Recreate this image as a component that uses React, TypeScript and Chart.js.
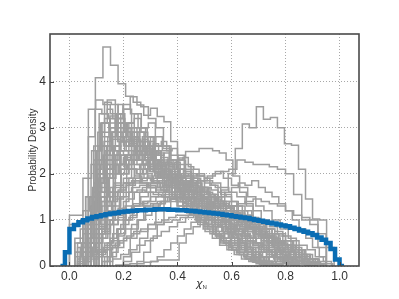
import React, { useEffect, useRef } from 'react';
import { Chart, registerables } from 'chart.js';

Chart.register(...registerables);

const xTicks = [0, 0.2, 0.4, 0.6, 0.8, 1.0];
const yTicks = [0, 1, 2, 3, 4];
const xTitle = 'χ';
const xTitleSub = 'N';
const yTitle = 'Probability Density';

const blueStart = -1 / 30;
const blueWidth = 1 / 60;
const blueValues = [
  0, 0.3, 0.8, 0.89, 0.95, 0.99, 1.03, 1.06, 1.08, 1.1, 1.12, 1.14, 1.15, 1.17, 1.18, 1.19,
  1.2, 1.21, 1.21, 1.22, 1.22, 1.23, 1.23, 1.23, 1.22, 1.22, 1.21, 1.21, 1.2, 1.19, 1.18, 1.17,
  1.16, 1.15, 1.14, 1.13, 1.11, 1.1, 1.08, 1.07, 1.05, 1.04, 1.02, 1.0, 0.98, 0.96, 0.94, 0.92,
  0.9, 0.88, 0.86, 0.83, 0.8, 0.77, 0.74, 0.71, 0.67, 0.62, 0.57, 0.5, 0.37, 0.14, 0,
];

const grayStarts = [
  0.04, 0.172, 0.055, 0.02, 0.06, 0.07, 0.08, 0.1, 0.05, 0.03, 0.0, 0.09, 0.06, 0.12, 0.1, 0.04,
  0.08, 0.05, 0.07, 0.02, 0.1, 0.13, 0.04, 0.06, 0.08, 0.03, 0.05, 0.11, 0.02, 0.05, 0.06, 0.03,
  0.15, 0.09, 0.0, 0.2, 0.12, 0.07, 0.11, 0.03, 0.1,
  0.06, 0.09, 0.12, 0.05, 0.1, 0.16, 0.03, 0.08, 0.14, 0.07, 0.2, 0.11, 0.04, 0.13, 0.02, 0.09,
  0.25, 0.06, 0.15,
  0.04, 0.08, 0.1, 0.06, 0.3, 0.02,
];
const grayWidths = [
  0.028, 0.026, 0.025, 0.03, 0.03, 0.027, 0.025, 0.025, 0.03, 0.03, 0.025, 0.028, 0.024, 0.028, 0.03, 0.03,
  0.026, 0.032, 0.025, 0.03, 0.03, 0.03, 0.028, 0.025, 0.03, 0.026, 0.03, 0.027, 0.024, 0.03, 0.028, 0.03,
  0.028, 0.025, 0.03, 0.03, 0.027, 0.03, 0.026, 0.028, 0.03,
  0.02, 0.02, 0.022, 0.022, 0.02, 0.02, 0.02, 0.024, 0.024, 0.02, 0.025, 0.02, 0.025, 0.026, 0.02, 0.022,
  0.025, 0.03, 0.02,
  0.03, 0.028, 0.025, 0.026, 0.025, 0.03,
];
const grayValues = [
  [0.3, 1.0, 4.08, 4.75, 4.35, 3.95, 3.68, 3.55, 3.45, 3.2, 3.0, 2.6, 2.2, 1.9, 1.6, 1.3, 1.05, 0.85, 0.65, 0.5, 0.35, 0.25, 0.15, 0.1, 0.05, 0.02],
  [0.02, 0.03, 0.05, 0.05, 0.08, 0.1, 0.13, 0.13, 0.13, 0.5, 0.7, 0.85, 1.05, 1.25, 1.5, 1.65, 2.0, 2.55, 3.08, 3.0, 3.45, 3.18, 3.22, 3.0, 2.65, 2.62, 2.1, 1.45, 1.02, 1.0],
  [0.15, 0.25, 0.35, 0.45, 0.55, 0.65, 0.8, 0.9, 1.0, 1.1, 1.2, 1.35, 1.65, 2.0, 2.34, 2.48, 2.48, 2.55, 2.55, 2.5, 2.45, 2.3, 1.95, 1.6, 1.3, 1.0, 0.8, 0.6, 0.4, 0.25, 0.1],
  [0.3, 0.5, 0.7, 0.85, 1.0, 1.1, 1.2, 1.3, 1.35, 1.4, 1.5, 1.55, 1.6, 1.7, 1.75, 1.85, 1.9, 2.0, 2.05, 2.1, 2.3, 2.25, 2.2, 2.2, 2.15, 2.1, 2.0, 1.55, 1.05, 1.0, 0.4],
  [0.4, 0.6, 0.8, 0.9, 1.0, 1.15, 1.3, 1.4, 1.5, 1.6, 1.7, 1.75, 1.8, 1.9, 1.85, 1.95, 2.05, 1.9, 1.75, 1.7, 1.5, 1.3, 1.2, 1.0, 0.8, 0.6, 0.35, 0.15, 0.05],
  [3.4, 3.6, 3.5, 3.3, 3.2, 2.9, 2.7, 2.5, 2.4, 2.1, 1.9, 1.7, 1.5, 1.3, 1.1, 0.9, 0.75, 0.6, 0.45, 0.35, 0.25, 0.15, 0.1, 0.05],
  [1.5, 2.9, 3.55, 3.5, 3.3, 3.0, 2.8, 2.7, 2.55, 2.3, 2.2, 2.0, 1.8, 1.6, 1.4, 1.25, 1.05, 0.9, 0.75, 0.6, 0.45, 0.35, 0.25, 0.15, 0.08, 0.04],
  [1.8, 2.4, 2.9, 3.2, 3.4, 3.67, 3.49, 3.27, 3.42, 3.24, 3.13, 2.7, 2.4, 2.2, 1.9, 1.7, 1.5, 1.3, 1.1, 0.9, 0.7, 0.5, 0.35, 0.2, 0.1],
  [0.8, 2.2, 3.3, 3.6, 3.3, 3.4, 3.0, 2.7, 2.5, 2.3, 2.0, 1.7, 1.5, 1.3, 1.1, 0.9, 0.7, 0.5, 0.35, 0.25, 0.15, 0.08],
  [0.5, 1.5, 2.6, 3.1, 3.25, 3.1, 2.9, 2.6, 2.4, 2.2, 1.9, 1.7, 1.5, 1.3, 1.1, 0.95, 0.8, 0.65, 0.5, 0.4, 0.3, 0.2, 0.1, 0.05],
  [1.1, 1.1, 1.2, 1.5, 2.0, 2.4, 2.8, 3.0, 2.9, 2.7, 2.6, 2.5, 2.3, 2.1, 2.0, 1.8, 1.65, 1.5, 1.35, 1.2, 1.05, 0.9, 0.75, 0.6, 0.5, 0.4, 0.3, 0.2, 0.12, 0.06],
  [2.2, 2.8, 3.1, 3.3, 3.0, 2.9, 2.6, 2.5, 2.3, 2.1, 2.0, 1.8, 1.6, 1.45, 1.3, 1.1, 0.9, 0.75, 0.6, 0.45, 0.3, 0.2, 0.1, 0.05],
  [0.6, 1.2, 1.9, 2.5, 2.9, 3.1, 3.0, 2.8, 2.9, 2.7, 2.5, 2.4, 2.2, 2.0, 1.9, 1.7, 1.5, 1.4, 1.2, 1.0, 0.9, 0.75, 0.6, 0.45, 0.35, 0.25, 0.15, 0.08],
  [1.4, 2.0, 2.5, 2.8, 2.9, 3.0, 2.8, 2.6, 2.5, 2.3, 2.1, 1.9, 1.7, 1.5, 1.3, 1.1, 0.9, 0.7, 0.55, 0.4, 0.3, 0.2, 0.1],
  [2.0, 2.6, 2.75, 2.7, 2.6, 2.4, 2.3, 2.2, 2.0, 1.9, 1.75, 1.6, 1.45, 1.3, 1.15, 1.0, 0.85, 0.7, 0.55, 0.4, 0.3, 0.2, 0.1, 0.05, 0.02],
  [0.2, 0.4, 0.8, 1.2, 1.6, 2.0, 2.3, 2.5, 2.55, 2.45, 2.3, 2.2, 2.1, 1.95, 1.8, 1.7, 1.55, 1.4, 1.25, 1.1, 0.95, 0.8, 0.65, 0.5, 0.35, 0.2, 0.1, 0.05],
  [1.0, 1.6, 2.1, 2.4, 2.7, 2.6, 2.75, 2.5, 2.45, 2.3, 2.2, 2.05, 1.9, 1.8, 1.7, 1.55, 1.4, 1.25, 1.1, 0.95, 0.8, 0.7, 0.55, 0.45, 0.35, 0.25, 0.15, 0.1, 0.05],
  [1.9, 2.5, 3.1, 3.0, 2.7, 2.5, 2.3, 2.0, 1.8, 1.65, 1.5, 1.3, 1.15, 1.0, 0.85, 0.7, 0.55, 0.45, 0.35, 0.25, 0.15, 0.1, 0.05],
  [2.8, 3.4, 3.3, 3.2, 2.9, 2.7, 2.6, 2.4, 2.2, 2.05, 1.9, 1.7, 1.55, 1.4, 1.25, 1.1, 0.95, 0.8, 0.7, 0.6, 0.5, 0.4, 0.3, 0.2, 0.12, 0.06],
  [0.3, 0.7, 1.1, 1.5, 1.9, 2.2, 2.3, 2.4, 2.3, 2.2, 2.1, 2.0, 1.9, 1.75, 1.6, 1.5, 1.35, 1.2, 1.05, 0.9, 0.75, 0.6, 0.45, 0.3, 0.2, 0.1, 0.05],
  [0.7, 1.2, 1.7, 2.1, 2.3, 2.2, 2.1, 2.05, 1.95, 1.85, 1.7, 1.6, 1.45, 1.3, 1.2, 1.05, 0.9, 0.8, 0.65, 0.5, 0.4, 0.3, 0.2, 0.1, 0.05],
  [0.1, 0.15, 0.25, 0.35, 0.45, 0.55, 0.65, 0.75, 0.85, 0.95, 1.05, 1.1, 1.15, 1.2, 1.15, 1.1, 1.0, 0.95, 0.85, 0.75, 0.65, 0.55, 0.45, 0.3, 0.15, 0.05],
  [0.1, 0.3, 0.5, 0.7, 0.9, 1.05, 1.2, 1.35, 1.5, 1.6, 1.7, 1.75, 1.8, 1.8, 1.75, 1.7, 1.6, 1.5, 1.4, 1.3, 1.15, 1.0, 0.85, 0.7, 0.55, 0.4, 0.25, 0.15, 0.08],
  [0.2, 0.4, 0.6, 0.9, 1.2, 1.5, 1.75, 1.9, 2.0, 2.1, 2.05, 1.95, 1.9, 1.8, 1.75, 1.65, 1.55, 1.45, 1.35, 1.25, 1.15, 1.05, 0.95, 0.85, 0.75, 0.65, 0.55, 0.45, 0.35, 0.25, 0.15, 0.1, 0.05],
  [0.5, 0.9, 1.3, 1.6, 1.9, 2.1, 2.2, 2.1, 2.0, 1.85, 1.7, 1.6, 1.5, 1.4, 1.3, 1.2, 1.1, 1.0, 0.9, 0.8, 0.7, 0.6, 0.5, 0.4, 0.3, 0.2, 0.1],
  [0.05, 0.1, 0.15, 0.25, 0.35, 0.45, 0.55, 0.65, 0.75, 0.8, 0.9, 0.95, 1.0, 1.05, 1.1, 1.1, 1.15, 1.1, 1.1, 1.05, 1.0, 0.95, 0.9, 0.85, 0.8, 0.75, 0.7, 0.65, 0.55, 0.45, 0.35, 0.25, 0.15, 0.1, 0.05],
  [0.3, 0.6, 0.9, 1.2, 1.45, 1.6, 1.7, 1.75, 1.7, 1.65, 1.6, 1.5, 1.45, 1.4, 1.35, 1.3, 1.2, 1.1, 1.05, 1.0, 0.9, 0.8, 0.7, 0.6, 0.5, 0.4, 0.3, 0.2, 0.1, 0.05],
  [1.6, 2.3, 2.6, 2.5, 2.4, 2.45, 2.2, 2.05, 1.9, 1.75, 1.6, 1.45, 1.3, 1.15, 1.0, 0.85, 0.7, 0.6, 0.5, 0.4, 0.3, 0.2, 0.1],
  [0.2, 0.5, 0.9, 1.4, 1.8, 2.2, 2.5, 2.7, 2.75, 2.6, 2.5, 2.4, 2.3, 2.15, 2.0, 1.9, 1.8, 1.65, 1.5, 1.4, 1.3, 1.2, 1.1, 1.0, 0.9, 0.8, 0.7, 0.6, 0.5, 0.4, 0.3, 0.2, 0.12, 0.06],
  [0.1, 0.2, 0.3, 0.4, 0.5, 0.6, 0.7, 0.75, 0.8, 0.9, 0.95, 1.0, 1.05, 1.1, 1.15, 1.2, 1.25, 1.3, 1.3, 1.35, 1.4, 1.45, 1.4, 1.35, 1.3, 1.2, 1.1, 1.0, 0.9, 0.7, 0.4],
  [0.5, 1.0, 1.5, 1.9, 2.2, 2.35, 2.4, 2.3, 2.2, 2.1, 2.0, 1.9, 1.8, 1.7, 1.65, 1.6, 1.55, 1.5, 1.4, 1.3, 1.2, 1.05, 0.9, 0.75, 0.6, 0.45, 0.3, 0.15, 0.05],
  [0.15, 0.3, 0.5, 0.75, 1.0, 1.25, 1.45, 1.6, 1.7, 1.8, 1.85, 1.9, 1.85, 1.8, 1.75, 1.65, 1.55, 1.4, 1.3, 1.15, 1.0, 0.85, 0.7, 0.55, 0.4, 0.3, 0.2, 0.1, 0.05],
  [0.4, 0.8, 1.3, 1.8, 2.2, 2.5, 2.6, 2.55, 2.4, 2.3, 2.1, 1.9, 1.7, 1.5, 1.35, 1.2, 1.05, 0.9, 0.75, 0.6, 0.45, 0.3, 0.2, 0.1],
  [0.9, 1.5, 2.1, 2.6, 2.9, 3.1, 3.2, 2.9, 2.7, 2.5, 2.35, 2.2, 2.0, 1.85, 1.7, 1.55, 1.4, 1.25, 1.1, 0.95, 0.8, 0.65, 0.5, 0.4, 0.3, 0.2, 0.1, 0.05],
  [0.9, 0.95, 1.0, 1.1, 1.3, 1.5, 1.65, 1.8, 1.85, 1.9, 1.85, 1.8, 1.7, 1.6, 1.5, 1.4, 1.3, 1.2, 1.1, 1.0, 0.9, 0.8, 0.65, 0.5, 0.35, 0.2, 0.1],
  [0.1, 0.3, 0.6, 0.9, 1.2, 1.5, 1.8, 1.95, 2.0, 1.95, 1.85, 1.8, 1.7, 1.6, 1.5, 1.35, 1.2, 1.0, 0.85, 0.7, 0.55, 0.4, 0.25, 0.15, 0.05],
  [0.1, 0.2, 0.4, 0.6, 0.8, 1.0, 1.2, 1.3, 1.4, 1.5, 1.55, 1.6, 1.6, 1.55, 1.5, 1.45, 1.35, 1.25, 1.15, 1.05, 0.95, 0.85, 0.75, 0.65, 0.55, 0.45, 0.35, 0.25, 0.15, 0.08],
  [1.2, 1.8, 2.3, 2.6, 2.7, 2.65, 2.5, 2.35, 2.2, 2.05, 1.9, 1.75, 1.6, 1.45, 1.3, 1.15, 1.0, 0.85, 0.7, 0.55, 0.4, 0.3, 0.2, 0.1],
  [0.8, 1.6, 2.3, 2.8, 3.1, 3.3, 3.0, 3.1, 2.8, 2.6, 2.3, 2.1, 1.9, 1.7, 1.5, 1.3, 1.1, 0.9, 0.75, 0.6, 0.45, 0.3, 0.2, 0.1],
  [0.4, 0.9, 1.6, 2.2, 2.8, 3.2, 3.5, 3.3, 3.0, 2.8, 2.5, 2.25, 2.0, 1.75, 1.5, 1.3, 1.1, 0.9, 0.7, 0.55, 0.4, 0.3, 0.2, 0.1, 0.05],
  [0.3, 0.5, 0.7, 0.9, 1.05, 1.2, 1.3, 1.35, 1.4, 1.45, 1.5, 1.5, 1.45, 1.45, 1.4, 1.35, 1.3, 1.2, 1.1, 1.0, 0.9, 0.8, 0.7, 0.55, 0.4, 0.25, 0.15, 0.05],
  [0.5, 1.3, 2.1, 2.6, 2.4, 2.9, 2.7, 3.0, 2.6, 2.8, 2.5, 2.3, 2.45, 2.1, 2.0, 1.9, 2.05, 1.7, 1.6, 1.55, 1.4, 1.3, 1.35, 1.1, 1.0, 0.95, 0.8, 0.85, 0.7, 0.6, 0.55, 0.45, 0.4, 0.3, 0.25, 0.2, 0.15, 0.1, 0.05],
  [1.8, 2.6, 3.2, 2.9, 3.3, 2.8, 2.9, 2.6, 2.7, 2.4, 2.2, 2.3, 2.0, 1.9, 1.95, 1.7, 1.6, 1.5, 1.35, 1.3, 1.15, 1.05, 0.95, 0.85, 0.8, 0.65, 0.6, 0.5, 0.4, 0.35, 0.25, 0.2, 0.1, 0.05],
  [0.6, 1.4, 2.0, 2.4, 2.2, 2.6, 2.5, 2.7, 2.4, 2.5, 2.2, 2.3, 2.1, 1.95, 2.0, 1.8, 1.7, 1.6, 1.5, 1.45, 1.3, 1.2, 1.1, 1.0, 0.9, 0.8, 0.7, 0.6, 0.5, 0.4, 0.3, 0.2, 0.1],
  [0.2, 0.6, 1.0, 1.5, 1.9, 2.2, 2.0, 2.4, 2.3, 2.5, 2.2, 2.35, 2.1, 2.2, 1.95, 1.9, 1.8, 1.85, 1.65, 1.6, 1.5, 1.4, 1.35, 1.25, 1.2, 1.1, 1.0, 0.95, 0.85, 0.8, 0.7, 0.6, 0.5, 0.4, 0.3, 0.2, 0.12, 0.06],
  [2.5, 3.1, 3.4, 3.2, 3.5, 3.0, 3.1, 2.8, 2.9, 2.6, 2.5, 2.3, 2.2, 2.1, 1.9, 1.8, 1.7, 1.55, 1.45, 1.3, 1.2, 1.1, 1.0, 0.9, 0.8, 0.7, 0.6, 0.5, 0.4, 0.3, 0.2, 0.1, 0.05],
  [0.3, 0.8, 1.4, 1.9, 2.3, 2.6, 2.4, 2.8, 2.6, 2.7, 2.5, 2.55, 2.3, 2.35, 2.15, 2.1, 1.95, 1.9, 1.75, 1.7, 1.55, 1.5, 1.4, 1.3, 1.2, 1.1, 1.0, 0.9, 0.8, 0.7, 0.6, 0.5, 0.4, 0.3, 0.2, 0.1],
  [0.1, 0.3, 0.5, 0.8, 1.1, 1.4, 1.7, 2.0, 2.2, 2.1, 2.4, 2.3, 2.2, 2.35, 2.1, 2.0, 2.05, 1.9, 1.85, 1.7, 1.75, 1.6, 1.55, 1.45, 1.4, 1.3, 1.25, 1.15, 1.1, 1.0, 0.95, 0.85, 0.8, 0.7, 0.65, 0.55, 0.5, 0.4, 0.35, 0.25, 0.2, 0.12, 0.06],
  [1.2, 2.0, 2.7, 3.0, 2.8, 2.6, 2.75, 2.4, 2.3, 2.1, 2.2, 1.9, 1.8, 1.7, 1.5, 1.45, 1.3, 1.2, 1.05, 0.95, 0.85, 0.7, 0.6, 0.5, 0.4, 0.3, 0.2, 0.1, 0.05],
  [0.5, 1.1, 1.7, 2.2, 2.5, 2.4, 2.6, 2.3, 2.2, 2.25, 2.0, 1.9, 1.95, 1.75, 1.7, 1.55, 1.5, 1.4, 1.3, 1.2, 1.1, 1.0, 0.9, 0.8, 0.7, 0.6, 0.5, 0.4, 0.3, 0.2, 0.1],
  [0.9, 1.5, 1.9, 2.2, 2.1, 2.4, 2.2, 2.3, 2.1, 2.0, 2.1, 1.9, 1.85, 1.8, 1.7, 1.75, 1.6, 1.55, 1.5, 1.4, 1.35, 1.25, 1.2, 1.1, 1.05, 0.95, 0.9, 0.8, 0.75, 0.65, 0.6, 0.5, 0.45, 0.35, 0.3, 0.2, 0.15, 0.1, 0.05],
  [0.2, 0.6, 1.0, 1.4, 1.7, 1.9, 2.1, 2.0, 2.2, 2.05, 1.95, 2.0, 1.8, 1.75, 1.6, 1.55, 1.4, 1.3, 1.2, 1.05, 0.95, 0.8, 0.7, 0.55, 0.45, 0.3, 0.2, 0.1],
  [1.0, 1.9, 2.5, 2.9, 3.1, 2.8, 3.0, 2.7, 2.75, 2.5, 2.4, 2.45, 2.2, 2.15, 2.0, 1.9, 1.85, 1.7, 1.6, 1.5, 1.4, 1.3, 1.2, 1.1, 1.0, 0.9, 0.8, 0.7, 0.6, 0.5, 0.4, 0.3, 0.2, 0.15, 0.08],
  [0.4, 0.8, 1.2, 1.7, 2.0, 2.2, 2.4, 2.3, 2.2, 2.1, 2.15, 1.95, 1.9, 1.8, 1.7, 1.6, 1.5, 1.4, 1.3, 1.2, 1.1, 1.0, 0.9, 0.8, 0.7, 0.6, 0.5, 0.4, 0.3, 0.2, 0.1, 0.05],
  [0.2, 0.4, 0.7, 1.0, 1.3, 1.6, 1.8, 1.9, 2.0, 1.95, 1.9, 1.85, 1.75, 1.7, 1.6, 1.5, 1.4, 1.3, 1.2, 1.1, 1.0, 0.9, 0.75, 0.65, 0.55, 0.45, 0.35, 0.25, 0.15, 0.08],
  [0.5, 0.8, 1.0, 1.3, 1.6, 1.9, 2.1, 2.3, 2.5, 2.4, 2.6, 2.5, 2.4, 2.3, 2.35, 2.2, 2.1, 2.0, 1.9, 1.85, 1.75, 1.7, 1.6, 1.5, 1.45, 1.35, 1.3, 1.2, 1.1, 1.0, 0.95, 0.85, 0.8, 0.7, 0.6, 0.5, 0.4, 0.3, 0.2, 0.1, 0.05],
  [0.3, 0.7, 1.1, 1.4, 1.6, 1.8, 1.75, 1.9, 1.85, 1.95, 1.8, 1.85, 1.7, 1.75, 1.6, 1.55, 1.5, 1.45, 1.4, 1.3, 1.25, 1.2, 1.1, 1.05, 1.0, 0.9, 0.85, 0.75, 0.7, 0.6, 0.5, 0.4, 0.3, 0.2, 0.1, 0.05],
  [0.1, 0.3, 0.6, 0.9, 1.2, 1.45, 1.6, 1.75, 1.8, 1.85, 1.7, 1.65, 1.5, 1.4, 1.3, 1.15, 1.0, 0.9, 0.75, 0.6, 0.45, 0.3, 0.2, 0.1],
  [1.5, 2.3, 2.9, 3.2, 3.0, 2.7, 2.5, 2.3, 2.1, 1.9, 1.75, 1.6, 1.45, 1.3, 1.15, 1.0, 0.85, 0.7, 0.55, 0.4, 0.3, 0.2, 0.1, 0.05],
  [1.0, 1.6, 2.1, 2.4, 2.7, 2.5, 2.8, 2.6, 2.65, 2.4, 2.45, 2.2, 2.25, 2.0, 2.05, 1.85, 1.8, 1.7, 1.6, 1.55, 1.4, 1.35, 1.25, 1.15, 1.05, 0.95, 0.85, 0.75, 0.65, 0.55, 0.45, 0.35, 0.25, 0.15, 0.08],
  [0.2, 0.5, 0.8, 1.1, 1.3, 1.5, 1.6, 1.65, 1.6, 1.55, 1.5, 1.45, 1.4, 1.35, 1.3, 1.25, 1.2, 1.15, 1.1, 1.05, 1.0, 0.95, 0.9, 0.8, 0.75, 0.65, 0.55, 0.45, 0.35, 0.2, 0.1],
  [0.6, 1.1, 1.5, 1.8, 2.0, 2.1, 2.0, 1.9, 1.8, 1.7, 1.6, 1.5, 1.45, 1.4, 1.3, 1.25, 1.2, 1.1, 1.05, 1.0, 0.9, 0.85, 0.8, 0.7, 0.6, 0.5, 0.45, 0.35, 0.25, 0.15, 0.05],
  [0.2, 0.4, 0.6, 0.8, 1.0, 1.1, 1.2, 1.3, 1.35, 1.4, 1.4, 1.45, 1.4, 1.35, 1.3, 1.3, 1.25, 1.2, 1.15, 1.1, 1.05, 1.0, 0.95, 0.9, 0.85, 0.8, 0.7, 0.65, 0.55, 0.45, 0.35, 0.25, 0.15, 0.1, 0.05],
  [1.0, 1.7, 2.3, 2.6, 2.4, 2.2, 2.1, 1.95, 1.8, 1.7, 1.6, 1.5, 1.4, 1.3, 1.2, 1.15, 1.05, 1.0, 0.9, 0.85, 0.8, 0.7, 0.65, 0.55, 0.5, 0.45, 0.35, 0.3, 0.2, 0.15, 0.1, 0.05, 0.02],
  [0.1, 0.2, 0.35, 0.5, 0.65, 0.8, 0.95, 1.1, 1.25, 1.35, 1.5, 1.6, 1.7, 1.8, 1.75, 1.85, 1.7, 1.6, 1.5, 1.35, 1.2, 1.0, 0.8, 0.6, 0.4, 0.2],
  [0.6, 0.9, 1.2, 1.4, 1.6, 1.75, 1.8, 1.85, 1.8, 1.75, 1.7, 1.6, 1.5, 1.4, 1.3, 1.2, 1.1, 1.0, 0.95, 0.9, 0.8, 0.75, 0.7, 0.6, 0.5, 0.4, 0.3, 0.2, 0.1],
];

function stepPoints(start: number, width: number, values: number[]) {
  const pts: { x: number; y: number }[] = [{ x: start, y: 0 }];
  values.forEach((v, i) => pts.push({ x: start + i * width, y: v }));
  pts.push({ x: start + values.length * width, y: 0 });
  return pts;
}

const TEXT = '#333333';
const FONT = '"Liberation Sans", Arial, sans-serif';

const decor = {
  id: 'decor',
  afterDraw(chart: any) {
    const { ctx, chartArea: a, scales } = chart;
    const x = scales.x;
    const y = scales.y;
    ctx.save();
    ctx.strokeStyle = '#444444';
    ctx.lineWidth = 1;
    xTicks.forEach((v) => {
      const px = Math.round(x.getPixelForValue(v)) + 0.5;
      ctx.beginPath();
      ctx.moveTo(px, a.bottom);
      ctx.lineTo(px, a.bottom - 4);
      ctx.stroke();
    });
    yTicks.forEach((v) => {
      const py = Math.round(y.getPixelForValue(v)) + 0.5;
      ctx.beginPath();
      ctx.moveTo(a.left, py);
      ctx.lineTo(a.left + 4, py);
      ctx.stroke();
    });
    ctx.lineWidth = 1.6;
    ctx.strokeStyle = '#4a4a4a';
    ctx.strokeRect(a.left, a.top, a.right - a.left, a.bottom - a.top);
    ctx.fillStyle = TEXT;
    ctx.textBaseline = 'alphabetic';
    ctx.textAlign = 'left';
    ctx.font = 'italic 11px "DejaVu Sans", sans-serif';
    ctx.fillText(xTitle, 196, 287);
    const w = ctx.measureText(xTitle).width;
    ctx.font = '6px ' + FONT;
    ctx.fillText(xTitleSub, 196 + w, 288.5);
    ctx.restore();
  },
};

export default function App() {
  const ref = useRef<HTMLCanvasElement | null>(null);
  useEffect(() => {
    if (!ref.current) return;
    const datasets: any[] = [
      {
        data: stepPoints(blueStart, blueWidth, blueValues),
        borderColor: '#0a6db3',
        borderWidth: 4.5,
        stepped: 'before',
        pointRadius: 0,
        fill: false,
        order: 0,
        borderCapStyle: 'butt',
        borderJoinStyle: 'miter',
      },
    ];
    grayValues.forEach((vals, i) => {
      datasets.push({
        data: stepPoints(grayStarts[i], grayWidths[i], vals),
        borderColor: '#9e9e9e',
        borderWidth: 1.5,
        stepped: 'before',
        pointRadius: 0,
        fill: false,
        order: 1,
      });
    });
    const chart = new Chart(ref.current, {
      type: 'line',
      data: { datasets },
      plugins: [decor],
      options: {
        animation: false,
        responsive: false,
        layout: { padding: { left: 0, right: 40, top: 34, bottom: 0 } },
        plugins: { legend: { display: false }, tooltip: { enabled: false } },
        scales: {
          x: {
            type: 'linear',
            min: -0.072,
            max: 1.072,
            afterBuildTicks: (s: any) => {
              s.ticks = xTicks.map((v) => ({ value: v }));
            },
            afterFit: (s: any) => {
              s.height = 33;
            },
            ticks: {
              callback: (v: any) => Number(v).toFixed(1),
              font: { family: FONT, size: 12 },
              color: TEXT,
              padding: 3,
              maxRotation: 0,
              autoSkip: false,
            },
            grid: { color: '#a8a8a8', lineWidth: 1, drawTicks: false },
            border: { display: false, dash: [1, 2] },
          },
          y: {
            type: 'linear',
            min: 0,
            max: 5.03,
            afterBuildTicks: (s: any) => {
              s.ticks = yTicks.map((v) => ({ value: v }));
            },
            afterFit: (s: any) => {
              s.width = 50;
            },
            ticks: {
              callback: (v: any) => String(v),
              font: { family: FONT, size: 12 },
              color: TEXT,
              padding: 4,
              autoSkip: false,
            },
            grid: { color: '#a8a8a8', lineWidth: 1, drawTicks: false },
            border: { display: false, dash: [1, 2] },
            title: {
              display: true,
              text: yTitle,
              font: { family: FONT, size: 10 },
              color: TEXT,
              padding: { top: 27, bottom: 0 },
            },
          },
        },
      } as any,
    });
    return () => chart.destroy();
  }, []);
  return (
    <div style={{ position: 'absolute', left: 0, top: 0, width: 399, height: 299, background: '#fff' }}>
      <canvas ref={ref} width={399} height={299} />
    </div>
  );
}
